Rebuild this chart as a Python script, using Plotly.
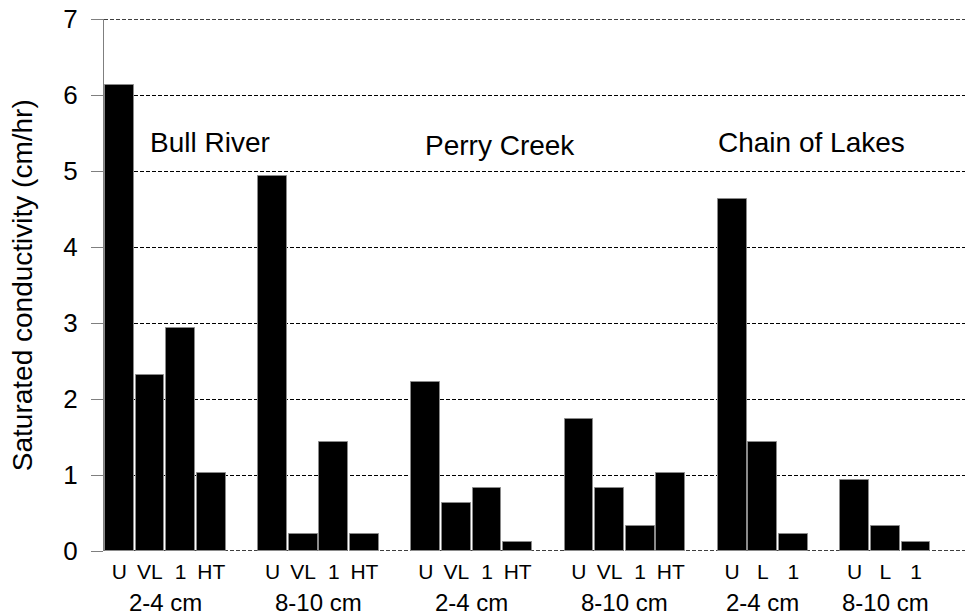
import plotly.graph_objects as go

# saturated conductivity (cm/hr), one list per site / depth group
sites = ["Bull River", "Perry Creek", "Chain of Lakes"]
depths = ["2-4 cm", "8-10 cm"]

br_labels = ["U", "VL", "1", "HT"]
pc_labels = ["U", "VL", "1", "HT"]
col_labels = ["U", "L", "1"]

br_shallow = [6.13, 2.32, 2.93, 1.03]
br_deep = [4.93, 0.22, 1.43, 0.22]
pc_shallow = [2.23, 0.63, 0.83, 0.12]
pc_deep = [1.74, 0.83, 0.33, 1.03]
col_shallow = [4.63, 1.43, 0.23]
col_deep = [0.93, 0.33, 0.12]

groups = [
    (br_labels, br_shallow, depths[0]),
    (br_labels, br_deep, depths[1]),
    (pc_labels, pc_shallow, depths[0]),
    (pc_labels, pc_deep, depths[1]),
    (col_labels, col_shallow, depths[0]),
    (col_labels, col_deep, depths[1]),
]

FONT = "Arial, Liberation Sans, sans-serif"
Y_MAX = 7

# lay the bars out on slots, leaving an empty slot between groups
xs, ys, ticktext, group_centers = [], [], [], []
slot = 0
for labels, vals, depth in groups:
    start = slot
    for lab, v in zip(labels, vals):
        xs.append(slot)
        ys.append(v)
        ticktext.append(lab)
        slot += 1
    group_centers.append(((start + slot - 1) / 2, depth))
    slot += 1
n_slots = slot - 1

fig = go.Figure()
fig.add_trace(go.Bar(
    x=xs, y=ys, width=0.94,
    marker=dict(color="black", line=dict(color="#8a8a8a", width=1)),
    showlegend=False,
))

# plotly drops the gridlines sitting on the range edges, so draw those two
for yv in (0, Y_MAX):
    fig.add_shape(type="line", xref="paper", x0=0, x1=1, yref="y", y0=yv, y1=yv,
                  line=dict(color="black", width=1.3, dash="4px,2px"), layer="below")

# depth labels under each group
for xc, depth in group_centers:
    fig.add_annotation(x=xc, xref="x", y=-0.096, yref="paper", text=depth,
                       showarrow=False, yanchor="middle",
                       font=dict(family=FONT, size=24, color="black"))

# site names
site_pos = [(2.96, 5.38), (12.42, 5.34), (22.6, 5.38)]
for name, (sx, sy) in zip(sites, site_pos):
    fig.add_annotation(x=sx, y=sy, text=name, showarrow=False,
                       font=dict(family=FONT, size=28, color="black"))

# y axis title
fig.add_annotation(x=-0.095, xref="paper", y=0.5, yref="paper",
                   text="Saturated conductivity (cm/hr)", textangle=-90,
                   showarrow=False, xanchor="center", yanchor="middle",
                   font=dict(family=FONT, size=28, color="black"))

fig.update_layout(
    width=975, height=616,
    margin=dict(l=104, r=10, t=19, b=65),
    paper_bgcolor="white", plot_bgcolor="white",
    bargap=0,
    font=dict(family=FONT, color="black"),
)
fig.update_xaxes(
    range=[-0.5, n_slots + 0.6], automargin=False,
    tickvals=xs, ticktext=ticktext, ticks="",
    tickfont=dict(family=FONT, size=21, color="black"),
    ticklabelstandoff=6,
    showgrid=False, zeroline=False, showline=False,
)
fig.update_yaxes(
    range=[0, Y_MAX], dtick=1, automargin=False,
    showgrid=True, gridcolor="black", griddash="4px,2px", gridwidth=1.3,
    zeroline=False,
    showline=True, linecolor="#7f7f7f", linewidth=1,
    ticks="outside", ticklen=12, tickcolor="#7f7f7f",
    ticklabelstandoff=8,
    tickfont=dict(family=FONT, size=26, color="black"),
)

# drop the default 8px page margin so the figure sits at the window corner
fig.write_html("out.html",
               config={"displayModeBar": False},
               post_script="document.body.style.margin='0';"
                           "document.body.style.overflow='hidden';")
